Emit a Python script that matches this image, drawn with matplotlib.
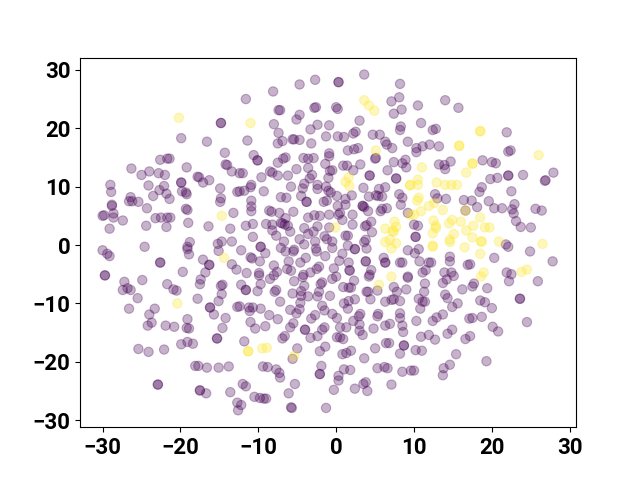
import numpy as np
import matplotlib
matplotlib.use('Agg')
import matplotlib.pyplot as plt

# tsne embedding, class 0 (dark) and class 1 (yellow)
class0 = [
(-14.8,20.9),(-14.8,20.9),(-19.9,18.3),(-16.6,17.7),(-14.3,15.8),(-22.6,14.6),(-21.7,14.8),(-21.4,14.8),(-19.2,13.3),(-26.3,13.1),
(-14.2,13.8),(-14.0,13.7),(-13.4,12.6),(-24.0,12.6),(-25.0,12.0),(-22.8,12.3),(-22.0,12.0),(-17.8,11.7),(-17.6,11.6),(-16.3,11.1),
(-17.1,10.7),(-19.9,10.7),(-19.9,10.7),(-29.0,10.3),(-28.9,9.1),(-24.1,10.2),(-22.1,10.1),(-22.7,9.4),(-19.8,9.2),(-19.2,8.7),
(-19.3,9.0),(-14.9,9.7),(-21.8,8.8),(-21.4,7.9),(-23.5,8.4),(-12.7,9.1),(-26.4,8.2),(-26.6,7.5),(-26.2,7.5),(-25.4,7.4),
(-14.8,8.0),(-14.9,7.4),(-28.8,6.9),(-28.8,6.7),(-24.3,6.3),(-19.3,6.2),(-19.1,6.0),(-13.2,5.5),(-30.0,5.0),(-29.8,5.1),
(-28.6,5.4),(-28.6,4.7),(-27.4,4.2),(-29.1,2.8),(-23.2,4.6),(-22.5,4.7),(-21.7,4.7),(-21.3,4.7),(-19.0,3.8),(-24.4,3.3),
(-21.8,3.1),(-16.4,3.2),(-13.6,2.8),(-14.7,0.6),(-15.2,0.2),(-13.4,0.6),(-18.8,0.5),(-19.1,-0.3),
(3.6,29.2),(8.2,27.6),(-2.7,28.3),(-4.7,27.5),(0.3,27.9),(0.3,27.9),(-8.1,26.3),(-11.6,25.0),(7.1,24.6),(8.1,25.3),
(7.4,22.5),(8.4,23.2),(-7.4,23.1),(-7.2,23.1),(-2.8,23.5),(-2.6,23.6),(0.0,23.6),(0.2,23.3),(-4.7,22.3),(-5.1,21.5),
(3.0,21.3),(-8.0,20.7),(-2.4,20.6),(-0.9,20.5),(-3.3,19.8),(8.3,20.3),(8.2,19.7),(-7.4,19.2),(2.5,19.4),(2.2,19.1),
(-11.4,17.9),(-7.5,17.4),(-6.9,17.8),(-5.6,18.1),(-5.4,18.1),(-4.7,18.0),(-3.2,17.4),(-1.3,18.6),(0.2,18.6),(1.0,18.5),
(4.7,18.9),(5.6,18.9),(6.3,17.7),(6.5,17.2),(7.2,16.6),(9.2,17.7),(1.5,16.2),(2.3,16.4),(2.8,16.6),(-0.9,15.7),
(-0.9,15.2),(-10.6,15.4),(-10.1,14.5),(-10.1,14.5),(-6.5,15.0),(-6.8,14.8),(-7.5,14.1),(-4.2,14.9),(-3.6,14.8),(-2.9,14.9),
(5.0,14.8),(5.1,14.9),(7.4,14.2),(8.5,14.0),(8.9,14.6),(9.0,13.3),(-1.4,13.9),(0.9,13.6),(1.4,13.6),(3.1,13.8),
(-3.6,13.2),(-5.1,13.0),(-0.8,12.7),(-0.5,12.8),(2.2,12.8),(6.6,12.8),(-8.5,12.6),(-8.2,12.4),(-7.5,11.9),(-6.2,11.9),
(-12.0,12.3),(-12.4,12.3),(-9.6,11.6),(-3.1,12.0),(-3.4,11.4),(-1.0,11.5),(4.3,11.9),(4.3,11.9),(7.7,11.4),(7.7,11.4),
(-10.9,10.3),(-11.0,9.9),(-4.1,10.5),(-4.3,9.7),(-5.8,10.0),(-2.4,10.3),(-2.4,9.6),(-1.3,10.0),(-1.0,9.3),(-0.7,9.0),
(3.5,9.8),(5.5,9.6),(6.3,9.9),(-11.8,9.3),(-12.4,9.2),(-9.3,9.2),(-4.5,8.4),(-7.1,8.2),(-6.4,8.1),(0.1,8.4),
(2.0,8.5),(1.2,7.9),(4.2,8.3),(5.1,8.5),(5.4,8.4),(5.9,8.3),(8.1,8.7),(8.5,8.1),(8.3,6.9),(-3.8,7.4),
(-3.8,7.4),(-1.6,7.4),(-1.2,7.6),(-10.9,7.6),(-10.9,6.6),(-10.9,5.8),(0.2,6.7),(1.2,6.9),(3.4,6.7),(3.4,6.7),
(3.6,6.5),(4.1,5.8),(5.7,5.8),(5.9,6.2),(6.5,6.3),(9.2,5.5),(-8.6,5.9),(-8.3,5.7),(-7.3,5.5),(-5.5,5.7),
(-6.5,4.6),(-3.6,4.7),(-2.8,5.1),(-2.1,5.0),(-0.9,5.2),(0.5,5.5),(0.3,5.2),(0.8,4.3),(2.1,5.2),(-11.6,3.3),
(-10.7,3.6),(-9.0,3.6),(-8.2,3.5),(-7.1,3.8),(-6.9,3.7),(-6.6,3.5),(-6.2,3.3),(-4.1,2.9),(-2.4,3.2),(-8.2,2.5),
(-5.9,2.3),(-7.7,1.6),(-10.7,1.4),(-2.9,2.3),(-3.6,1.9),(-0.9,3.0),(2.1,3.5),(4.5,4.0),(3.7,3.2),(3.9,3.4),
(4.6,2.2),(1.2,1.6),(1.5,1.6),(-6.7,0.6),(-4.7,1.0),(-1.5,1.5),(-1.2,1.0),(-2.7,0.6),(-0.5,0.6),(3.8,0.9),(3.6,0.5),
(14.0,24.8),(10.5,23.9),(15.7,23.5),(10.9,20.9),(12.4,19.7),(12.8,19.9),(21.9,19.3),(10.3,16.6),(10.3,15.9),(11.1,16.9),
(12.0,17.2),(13.2,16.9),(22.1,16.0),(22.4,16.2),(18.8,14.5),(20.0,14.2),(20.5,14.0),(14.7,14.3),(13.2,13.8),(13.9,13.7),
(14.0,13.0),(27.9,12.4),(26.8,11.0),(26.9,11.1),(24.0,12.0),(22.1,11.9),(22.1,11.9),(20.7,11.5),(19.8,11.3),(18.7,9.9),
(18.4,9.1),(22.5,9.2),(12.7,8.7),(13.0,8.0),(14.1,7.9),(16.4,7.7),(17.4,7.6),(18.1,6.5),(19.6,7.5),(20.3,6.3),
(21.3,6.3),(22.9,7.0),(22.6,6.1),(22.8,5.4),(25.6,6.2),(26.4,5.9),(23.1,4.1),(23.7,3.1),(25.0,3.0),(16.6,5.9),
(10.0,3.5),(10.5,3.3),(10.2,1.4),(10.2,1.4),
(21.8,0.1),(22.1,-0.3),(24.9,-1.1),(20.3,-2.2),(27.8,-2.8),(9.2,-0.9),(10.1,-1.4),(10.6,-0.7),(14.6,-2.0),(14.6,-2.8),
(10.7,-2.8),(11.9,-3.0),(12.2,-3.0),(16.9,-3.4),(17.2,-3.3),(11.1,-4.7),(11.5,-4.3),(13.9,-4.7),(14.8,-4.7),(15.1,-5.3),
(14.2,-5.9),(13.7,-6.5),(9.2,-5.4),(9.2,-5.6),(11.4,-6.6),(21.9,-4.7),(22.5,-5.0),(22.2,-6.2),(25.9,-6.2),(17.7,-6.6),
(17.5,-7.1),(16.2,-7.6),(19.4,-7.4),(9.0,-7.6),(11.3,-8.0),(14.0,-8.5),(14.3,-9.1),(10.6,-9.2),(11.1,-9.7),(11.4,-9.7),
(10.8,-10.9),(15.6,-10.0),(14.9,-10.6),(18.5,-9.5),(19.1,-9.8),(20.0,-10.8),(23.6,-9.2),(23.6,-9.2),(13.7,-11.9),(12.9,-12.4),
(12.4,-13.0),(10.3,-13.0),(17.1,-12.6),(17.5,-12.5),(18.7,-12.3),(24.5,-13.2),(20.1,-14.0),(20.8,-14.8),(14.9,-14.5),(14.3,-15.2),
(17.2,-15.6),(16.6,-16.1),(11.9,-15.4),(10.9,-15.7),(12.7,-16.2),(10.2,-18.0),(11.0,-18.1),(15.4,-18.7),(19.3,-19.9),(14.6,-20.5),
(13.8,-21.1),(13.7,-22.3),(9.6,-21.5),(10.0,-21.5),
(-30.0,-0.9),(-29.4,-1.5),(-29.1,-1.9),(-24.6,-0.3),(-19.1,-0.7),(-18.9,-1.6),(-22.6,-3.0),(-22.6,-3.0),(-15.1,-1.0),(-12.2,-0.9),
(-17.1,-2.5),(-16.3,-3.4),(-16.3,-3.4),(-13.4,-3.3),(-12.8,-4.2),(-29.7,-5.2),(-29.7,-5.2),(-19.7,-4.6),(-16.8,-4.7),(-17.4,-5.9),
(-17.5,-6.7),(-27.2,-6.3),(-27.4,-7.7),(-26.8,-7.4),(-26.4,-7.7),(-25.5,-9.1),(-24.9,-6.0),(-21.7,-6.7),(-20.9,-7.6),(-20.5,-7.8),
(-14.6,-6.8),(-14.8,-7.0),(-14.7,-8.4),(-15.1,-9.6),(-12.2,-6.8),(-17.8,-9.2),(-16.2,-10.7),(-16.2,-10.7),(-15.7,-11.9),(-14.2,-12.5),
(-14.6,-14.2),(-12.7,-10.6),(-26.6,-10.9),(-23.3,-10.9),(-24.0,-11.9),(-23.7,-13.3),(-24.2,-13.8),(-21.9,-13.8),(-20.8,-14.0),(-19.1,-12.7),
(-19.2,-14.2),(-18.9,-14.3),(-15.3,-16.0),(-15.3,-16.0),(-19.1,-16.6),(-19.9,-17.0),(-18.4,-16.9),(-25.4,-17.8),(-24.1,-18.3),(-22.1,-17.9),
(-18.1,-20.7),(-17.7,-20.7),(-16.6,-21.0),(-15.1,-21.0),(-13.8,-20.8),(-22.9,-23.9),(-22.9,-23.9),(-17.5,-24.9),(-17.5,-24.9),(-16.7,-25.4),
(-13.6,-25.2),(-12.7,-27.0),(-12.2,-27.4),(-12.6,-28.3),
(-9.7,-0.3),(-9.7,-0.3),(-11.0,-2.1),(-10.8,-2.3),(-9.8,-2.8),(-9.1,-1.4),(-7.1,-0.5),(-6.5,-1.1),(-5.5,-1.1),(-5.4,-0.8),
(-4.1,0.1),(-2.6,-0.6),(-2.5,-1.1),(-1.4,-1.9),(-3.9,-2.2),(-4.6,-3.0),(-0.5,-0.5),(0.8,-1.5),(1.5,-0.1),(2.4,-0.7),
(2.4,-0.7),(3.9,-0.6),(0.4,-2.7),(1.6,-3.0),(3.8,-2.8),(3.8,-2.8),(6.3,-3.0),(6.3,-3.0),(6.1,-2.2),(8.2,-3.0),
(8.5,-3.0),(-8.0,-3.5),(-7.6,-4.6),(-8.0,-5.2),(-8.5,-5.8),(-6.1,-2.8),(-6.3,-4.1),(-5.8,-4.4),(-2.2,-3.7),(-2.5,-4.1),
(-3.3,-4.7),(-4.2,-5.1),(-4.3,-5.5),(-11.5,-4.8),(-9.9,-4.8),(-9.9,-5.2),(-9.7,-6.7),(-11.6,-7.7),(-11.6,-7.7),(-10.1,-7.9),
(-7.7,-7.7),(-7.9,-8.0),(-5.4,-6.2),(-4.1,-7.0),(-4.5,-7.9),(-5.6,-8.3),(-4.5,-8.7),(-3.6,-8.8),(-2.0,-6.7),(-1.8,-6.4),
(-2.2,-8.0),(-2.4,-8.8),(-0.3,-4.0),(0.0,-5.4),(-0.5,-5.8),(1.7,-4.3),(1.75,-4.4),(2.3,-6.1),(0.9,-7.2),(1.6,-7.3),
(1.9,-7.3),(4.5,-4.3),(4.3,-5.1),(4.2,-5.4),(3.9,-8.0),(4.1,-8.0),(5.3,-7.8),(4.4,-9.3),(-0.8,-8.7),(-7.2,-9.7),
(-4.6,-9.9),(-4.7,-11.0),(-5.1,-11.7),(-5.9,-11.1),(-1.8,-10.4),(-1.5,-11.2),(-0.5,-11.8),(0.1,-12.5),(1.0,-10.0),(1.6,-9.6),
(2.4,-9.3),(1.5,-10.9),(6.3,-9.7),(7.1,-9.4),(7.4,-9.3),(8.2,-9.6),(7.4,-7.2),(7.8,-8.0),(-11.2,-10.7),(-10.7,-10.7),
(-11.1,-11.3),(-9.7,-10.9),(-12.4,-10.5),(-8.6,-12.0),(-7.5,-12.7),(-11.0,-13.2),(-10.4,-14.3),(-9.1,-13.9),(-3.2,-12.6),(-2.7,-12.0),
(-5.5,-13.4),(-5.9,-14.1),(3.1,-11.8),(2.9,-12.2),(2.2,-13.0),(3.0,-13.6),(3.0,-14.7),(3.4,-15.4),(5.4,-11.8),(5.3,-12.2),
(8.2,-11.7),(8.2,-12.5),(8.5,-13.8),(8.6,-14.9),(6.3,-13.8),(6.9,-13.5),(4.8,-14.3),(0.5,-14.1),(1.3,-14.1),(-4.0,-14.5),
(-4.0,-14.5),(-1.5,-14.1),(-1.8,-14.5),(-2.4,-15.6),(-3.3,-15.9),(-6.6,-15.6),(-6.9,-16.0),(0.1,-15.8),(0.5,-15.8),(0.9,-16.1),
(-11.8,-16.5),(-5.0,-17.7),(-1.4,-17.4),(-2.1,-18.2),(5.0,-17.7),(6.4,-16.8),(6.8,-16.8),(8.7,-17.2),(8.7,-17.2),(8.2,-18.6),
(0.8,-18.7),(1.3,-18.5),(1.9,-18.1),(3.6,-19.4),(-5.6,-19.5),(-9.4,-20.8),(-8.8,-20.9),(-7.7,-21.3),(-7.3,-21.9),(-7.2,-22.7),
(-1.9,-20.7),(-2.1,-22.1),(-2.1,-22.1),(1.0,-21.3),(1.8,-21.4),(5.3,-21.1),(6.2,-20.9),(6.6,-21.1),(8.5,-21.7),(0.3,-22.4),
(0.3,-23.2),(3.8,-23.5),(3.5,-23.8),(2.4,-24.6),(4.0,-25.0),(7.1,-23.9),(-0.3,-24.8),(-5.3,-23.8),(-6.1,-25.4),(-12.0,-23.8),
(-11.6,-24.2),(-10.5,-26.0),(-9.8,-26.2),(-9.3,-26.3),(-9.0,-26.3),(-5.8,-27.8),(-5.7,-27.9),(-1.3,-27.9),
]
class1 = [
(-20.2,21.8),(-14.7,5.0),(-11.0,20.9),(3.6,24.8),(4.2,23.9),(4.9,23.0),(5.1,16.2),(1.6,11.6),(1.2,10.8),(1.7,10.1),
(9.5,10.2),(-0.1,3.0),(7.5,4.0),(6.3,2.8),(7.2,2.4),(7.7,3.1),(7.4,2.3),(6.3,0.5),(6.9,0.9),(7.7,0.3),
(9.5,5.2),(18.5,19.5),(18.5,19.5),(15.8,17.0),(15.8,17.0),(26.0,15.4),(17.5,14.0),(17.5,13.9),(16.7,12.4),(11.0,13.3),
(10.5,11.2),(9.5,10.3),(10.5,10.3),(12.9,10.7),(14.0,10.3),(14.8,10.3),(15.5,10.3),(10.6,8.1),(10.4,7.6),(12.6,7.2),
(11.9,6.7),(13.7,6.0),(10.9,5.8),(10.0,5.2),(12.5,4.2),(12.8,3.3),(12.8,2.9),(12.4,2.0),(14.9,4.3),(14.5,3.7),
(16.0,4.0),(17.6,3.3),(18.5,4.7),(19.1,3.0),(19.7,3.0),(16.7,2.5),(15.1,1.9),(17.5,1.3),(14.6,0.9),(14.6,0.5),
(18.6,0.6),(18.7,0.6),(20.9,0.6),(26.5,0.2),(12.4,-0.1),(12.4,-0.3),(16.5,-0.4),(16.6,5.9),
(18.5,-1.5),(18.95,-4.7),(18.6,-5.4),(23.8,-4.6),(24.5,-4.2),(-14.4,-2.2),(-20.4,-10.0),(-11.3,-18.2),(-11.3,-18.2),(-9.5,-17.7),
(-8.9,-17.6),(-5.4,-19.0),(5.5,-6.8),(7.1,-5.4),(7.1,-0.6),
]

xlim = (-32.9, 30.8)
ylim = (-31.2, 32.1)
xticks = [-30, -20, -10, 0, 10, 20, 30]
yticks = [-30, -20, -10, 0, 10, 20, 30]

pts = np.array(class0 + class1)
labels = np.array([0]*len(class0) + [1]*len(class1))

fig, ax = plt.subplots(figsize=(6.4, 4.8), dpi=100)
ax.scatter(pts[:,0], pts[:,1], s=45, linewidths=0.8, c=labels, cmap='viridis', alpha=0.3)
ax.set_xlim(xlim)
ax.set_ylim(ylim)
ax.set_xticks(xticks)
ax.set_yticks(yticks)
for lab in ax.get_xticklabels() + ax.get_yticklabels():
	lab.set_family('Roboto')
	lab.set_fontweight('bold')
	lab.set_fontsize(16)

plt.savefig('out.png', dpi=100)
